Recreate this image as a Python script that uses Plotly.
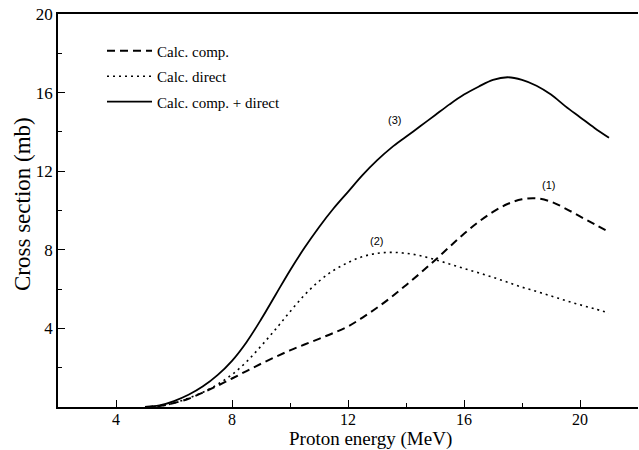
import plotly.graph_objects as go

energy = [5.0, 5.5, 6.0, 6.5, 7.0, 7.5, 8.0, 8.5, 9.0, 9.5, 10.0, 10.5, 11.0, 11.5,
          12.0, 12.5, 13.0, 13.5, 14.0, 14.5, 15.0, 15.5, 16.0, 16.5, 17.0, 17.5,
          18.0, 18.5, 19.0, 19.5, 20.0, 20.5, 21.0]
comp = [0, 0.05, 0.2, 0.42, 0.74, 1.08, 1.45, 1.83, 2.2, 2.55, 2.88, 3.18, 3.47, 3.77,
        4.1, 4.55, 5.05, 5.6, 6.2, 6.82, 7.47, 8.15, 8.82, 9.42, 9.93, 10.33,
        10.57, 10.62, 10.45, 10.1, 9.7, 9.3, 8.9]
direct = [0, 0.05, 0.2, 0.45, 0.75, 1.15, 1.65, 2.3, 3.1, 3.95, 4.85, 5.7, 6.4, 6.95,
          7.35, 7.65, 7.82, 7.87, 7.82, 7.7, 7.5, 7.28, 7.05, 6.83, 6.6, 6.35,
          6.1, 5.88, 5.65, 5.42, 5.2, 5.0, 4.78]
total = [0, 0.08, 0.3, 0.62, 1.05, 1.62, 2.35, 3.3, 4.45, 5.7, 6.95, 8.1, 9.15, 10.1,
         10.95, 11.8, 12.55, 13.2, 13.75, 14.3, 14.85, 15.4, 15.9, 16.3, 16.65, 16.78,
         16.65, 16.35, 15.9, 15.3, 14.75, 14.2, 13.7]

series_names = ["Calc. comp.", "Calc. direct", "Calc. comp. + direct"]
curve_labels = ["(1)", "(2)", "(3)"]
label_x = [18.93, 12.97, 13.6]
label_y = [11.3, 8.46, 14.6]

x_ticks = [4, 8, 12, 16, 20]
x_minor = [10, 14, 18]
y_ticks = [4, 8, 12, 16, 20]
y_minor = [2, 6, 10, 14, 18]

SERIF = "Liberation Serif, Times New Roman, serif"
SANS = "Liberation Sans, Arial, sans-serif"

fig = go.Figure()
fig.add_trace(go.Scatter(x=energy, y=comp, mode="lines", name=series_names[0],
                         legendgroup="a", line=dict(color="black", width=2, dash="8px,5px", shape="spline")))
fig.add_trace(go.Scatter(x=energy, y=direct, mode="lines", name=series_names[1],
                         legendgroup="b", line=dict(color="black", width=1.6, dash="2px,4px", shape="spline")))
fig.add_trace(go.Scatter(x=energy, y=total, mode="lines", name=series_names[2],
                         legendgroup="c", line=dict(color="black", width=1.8, shape="spline")))

for t, lx, ly in zip(curve_labels, label_x, label_y):
    fig.add_annotation(x=lx, y=ly, text=t, showarrow=False,
                       font=dict(family=SANS, size=11, color="black"))

fig.add_annotation(xref="paper", yref="paper", x=0.539, y=-0.081,
                   text="Proton energy (MeV)", showarrow=False, yanchor="middle",
                   font=dict(family=SERIF, size=19, color="black"))
fig.add_annotation(xref="paper", yref="paper", x=-0.06, y=0.517,
                   text="Cross section (mb)", showarrow=False, textangle=-90,
                   xanchor="center", yanchor="middle",
                   font=dict(family=SERIF, size=23, color="black"))

fig.update_layout(
    width=639, height=450,
    margin=dict(l=58, r=1, t=14, b=43),
    paper_bgcolor="white", plot_bgcolor="white",
    showlegend=True,
    legend=dict(x=(102 - 58) / 580, y=0.948, xanchor="left", yanchor="top",
                bgcolor="rgba(0,0,0,0)", tracegroupgap=3, itemwidth=45,
                font=dict(family=SERIF, size=15, color="black")),
    xaxis=dict(range=[2, 22], tickvals=x_ticks, ticks="inside", ticklen=7, tickwidth=1.2,
               tickcolor="black", showline=True, linecolor="black", linewidth=1.5,
               mirror=True, showgrid=False, zeroline=False, ticklabelstandoff=-3,
               tickfont=dict(family=SERIF, size=16, color="black"),
               minor=dict(tickvals=x_minor, ticks="inside", ticklen=4, tickcolor="black", showgrid=False)),
    yaxis=dict(range=[0, 20], tickvals=y_ticks, ticks="inside", ticklen=7, tickwidth=1.2,
               tickcolor="black", showline=True, linecolor="black", linewidth=1.5,
               showgrid=False, zeroline=False,
               tickfont=dict(family=SERIF, size=17, color="black"),
               minor=dict(tickvals=y_minor, ticks="inside", ticklen=4, tickcolor="black", showgrid=False)),
)

fig.write_html("out.html", config={"displayModeBar": False},
               post_script="document.body.style.margin='0';")
